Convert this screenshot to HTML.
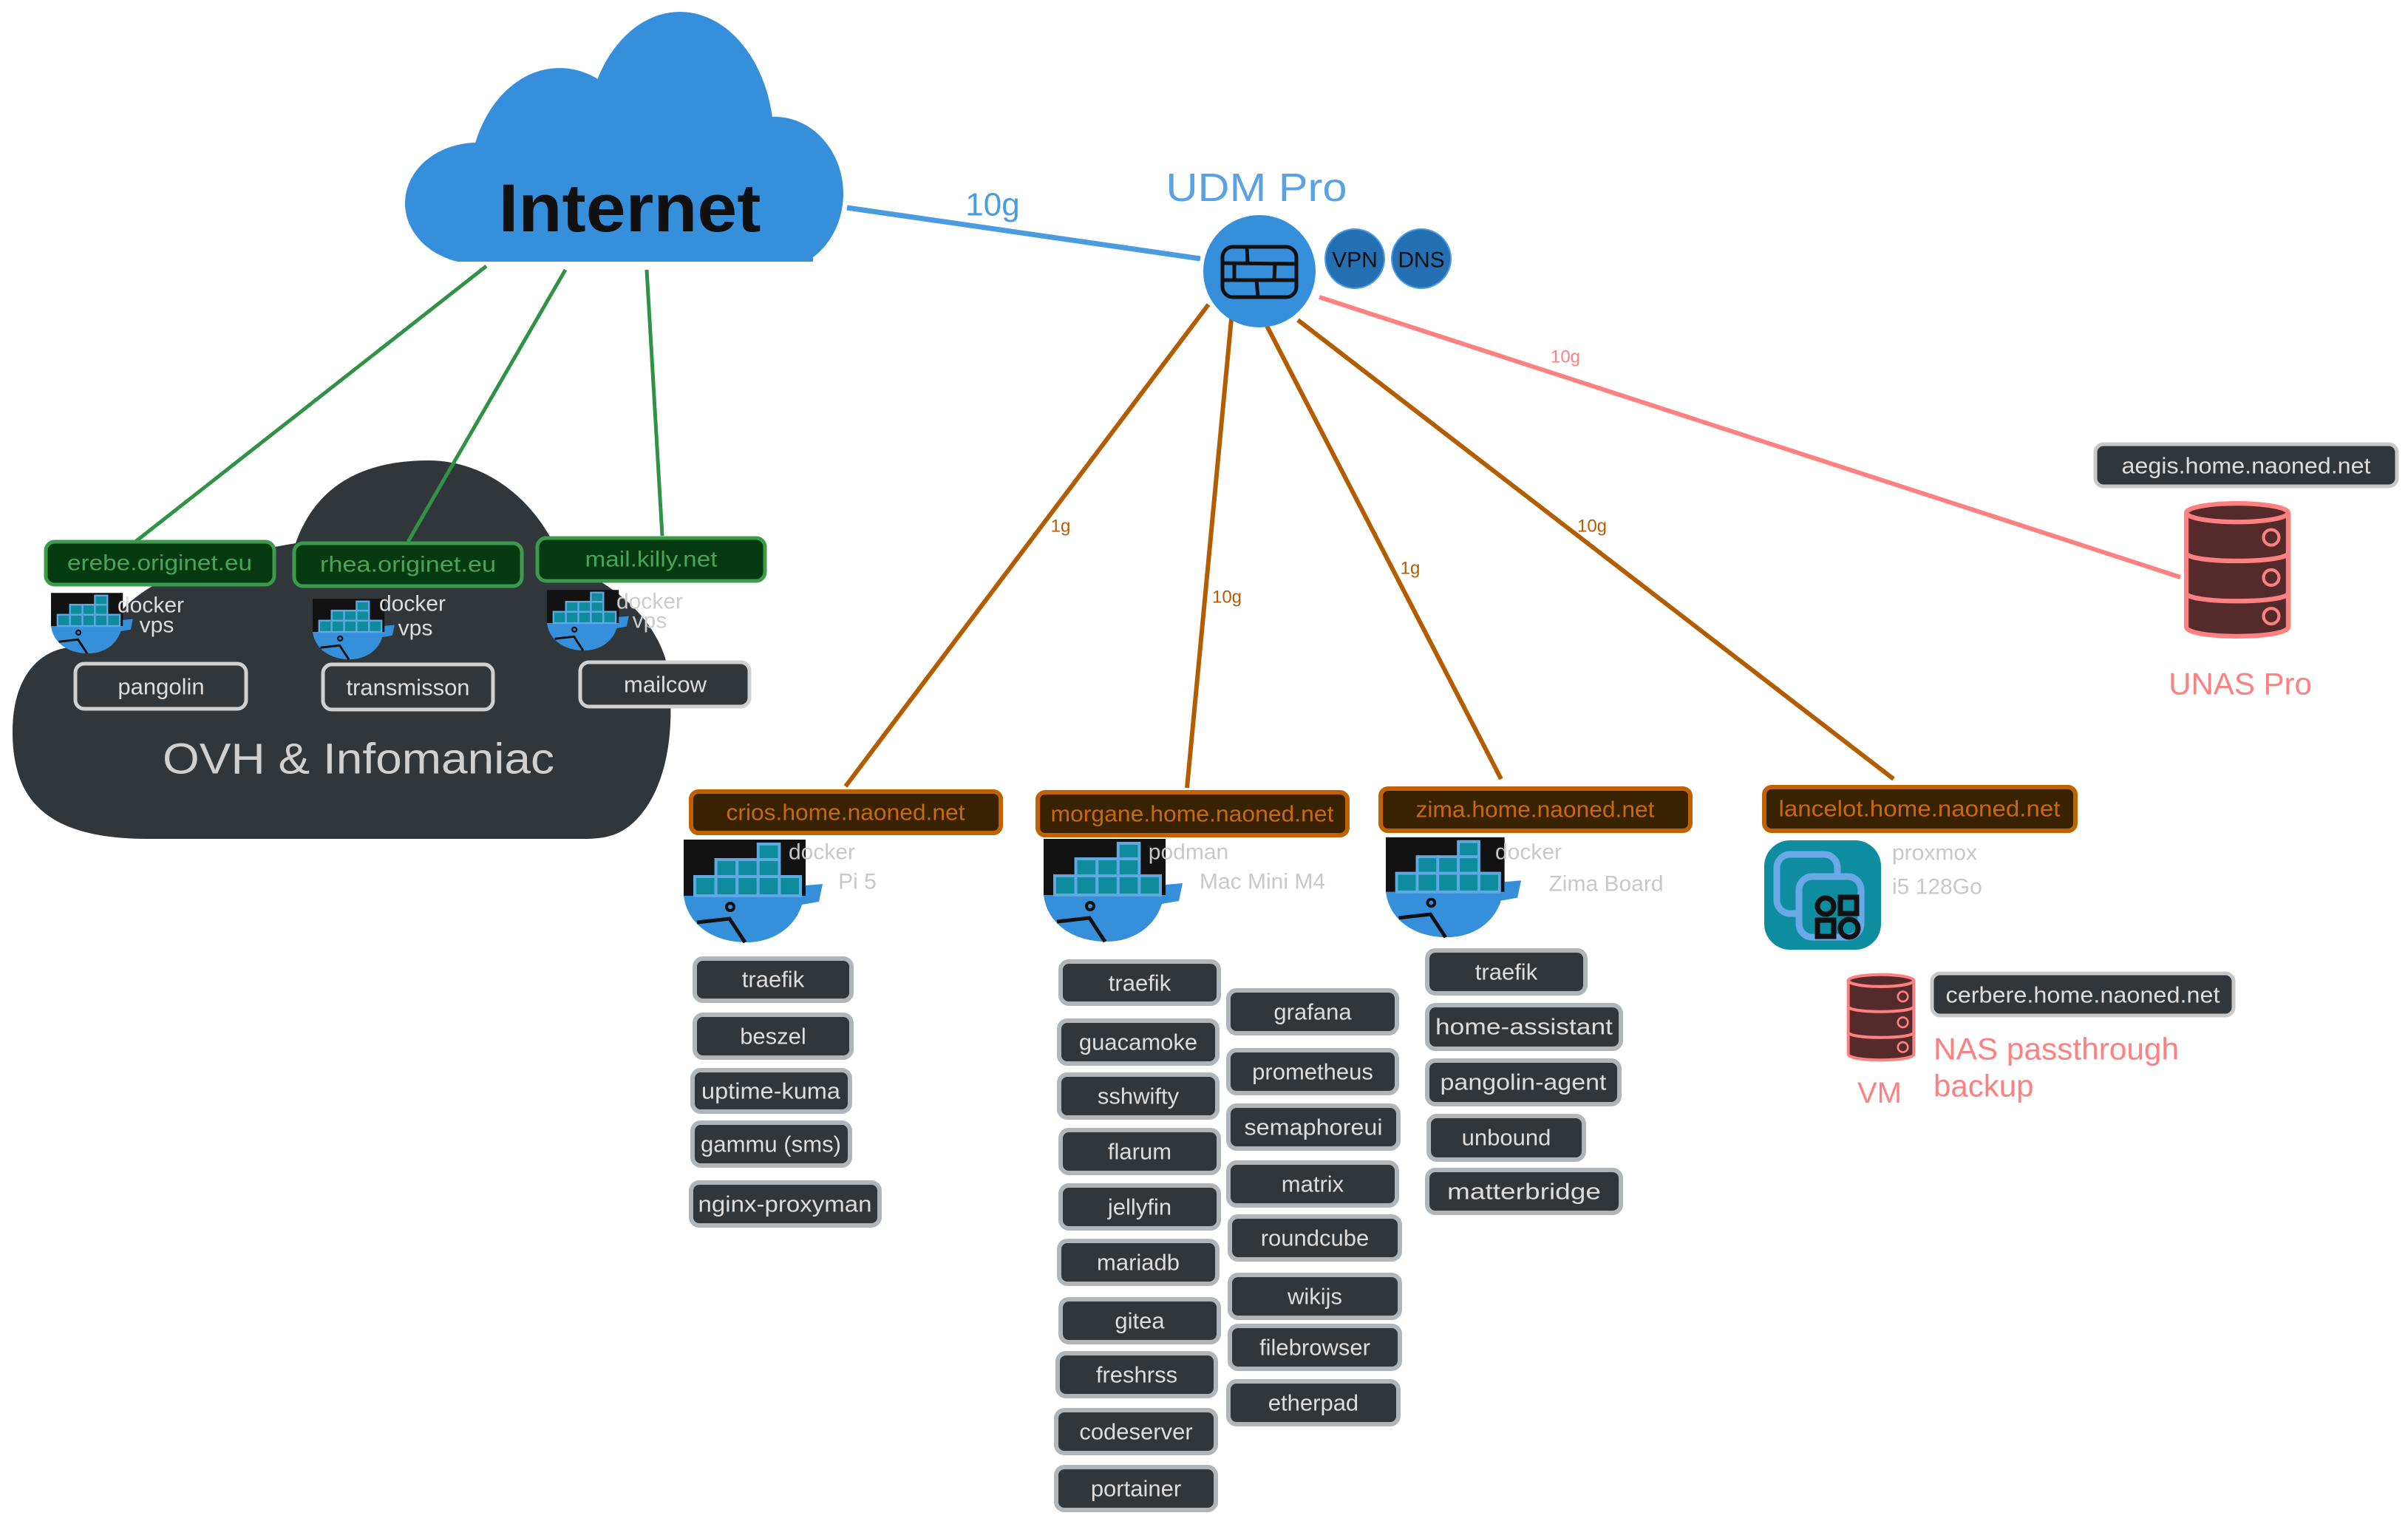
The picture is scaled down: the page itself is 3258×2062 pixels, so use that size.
<!DOCTYPE html>
<html><head><meta charset="utf-8"><style>
html,body{margin:0;padding:0;background:#fff;}
svg{display:block;}
text{font-family:"Liberation Sans",sans-serif;}
</style></head><body>
<svg width="3258" height="2062" viewBox="0 0 3258 2062" xmlns="http://www.w3.org/2000/svg">
<defs>
<symbol id="dock" viewBox="0 0 190 140">
<rect x="0" y="0" width="165" height="76" fill="#121212"/>
<path d="M0,76 L165,76 L165,62 L188,60 L183,84 L160,88 C150,120 120,139 85,139 C40,139 5,115 0,76 Z" fill="#368fdb"/>
<g fill="#0e8c9e" stroke="#5fa8e0" stroke-width="4">
<rect x="15" y="50" width="28.6" height="26"/><rect x="43.6" y="50" width="28.6" height="26"/><rect x="72.2" y="50" width="28.6" height="26"/><rect x="100.8" y="50" width="28.6" height="26"/><rect x="129.4" y="50" width="28.6" height="26"/>
<rect x="43.6" y="27" width="28.6" height="23"/><rect x="72.2" y="27" width="28.6" height="23"/><rect x="100.8" y="27" width="28.6" height="23"/>
<rect x="100.8" y="6" width="28.6" height="21"/>
</g>
<circle cx="63" cy="91" r="5" fill="none" stroke="#111" stroke-width="4"/>
<polyline points="18,112 62,107 83,139" fill="none" stroke="#111" stroke-width="5"/>
</symbol>
<symbol id="cyl" viewBox="0 0 70 90">
<path d="M2,8 L2,82 C2,90 68,90 68,82 L68,8" fill="#552a2b" stroke="#ff8080" stroke-width="3"/>
<ellipse cx="35" cy="8" rx="33" ry="6" fill="#552a2b" stroke="#ff8080" stroke-width="3"/>
<path d="M2,34 C2,41 68,41 68,34 M2,60 C2,67 68,67 68,60" fill="none" stroke="#ff8080" stroke-width="3"/>
<g fill="none" stroke="#ff8080" stroke-width="2"><circle cx="57" cy="24" r="5"/><circle cx="57" cy="50" r="5"/><circle cx="57" cy="75" r="5"/></g>
</symbol>
<clipPath id="inetclip"><rect x="0" y="0" width="1300" height="354"/></clipPath>
</defs>

<!-- OVH cloud -->
<path fill="#31363b" d="M200,1135 C60,1135 17,1080 17,990 C17,900 70,860 140,880 C150,800 250,760 400,735 C430,650 500,623 580,623 C660,623 730,680 760,760 C830,790 880,830 900,890 C915,960 910,1060 860,1110 C840,1130 820,1135 790,1135 Z"/>

<!-- Internet cloud -->
<g fill="#368fdb" clip-path="url(#inetclip)">
<ellipse cx="645" cy="275" rx="97" ry="82"/>
<ellipse cx="757" cy="250" rx="122" ry="158"/>
<ellipse cx="920" cy="190" rx="127" ry="174"/>
<ellipse cx="1048" cy="262" rx="93" ry="104"/>
<rect x="620" y="250" width="480" height="104"/>
</g>
<text x="852" y="282" font-size="92" font-weight="bold" fill="#111" text-anchor="middle" dominant-baseline="central" textLength="355" lengthAdjust="spacingAndGlyphs">Internet</text>

<!-- connectors -->
<line x1="1146" y1="281" x2="1624" y2="350" stroke="#4a9be0" stroke-width="7"/>
<text x="1343" y="277" font-size="44" fill="#4a9be0" text-anchor="middle" dominant-baseline="central">10g</text>
<g stroke="#2f9244" stroke-width="5">
<line x1="658" y1="360" x2="183" y2="733"/>
<line x1="765" y1="365" x2="552" y2="733"/>
<line x1="875" y1="365" x2="896" y2="725"/>
</g>
<g stroke="#b35c00" stroke-width="6">
<line x1="1635" y1="412" x2="1144" y2="1064"/>
<line x1="1667" y1="421" x2="1606" y2="1066"/>
<line x1="1712" y1="437" x2="2031" y2="1054"/>
<line x1="1756" y1="433" x2="2562" y2="1054"/>
</g>
<g font-size="24" fill="#b35c00" text-anchor="middle" dominant-baseline="central">
<text x="1435" y="712">1g</text><text x="1660" y="808">10g</text><text x="1908" y="769">1g</text><text x="2154" y="712">10g</text>
</g>
<line x1="1785" y1="402" x2="2950" y2="781" stroke="#ff8080" stroke-width="6"/>
<text x="2118" y="483" font-size="24" fill="#ff8080" text-anchor="middle" dominant-baseline="central">10g</text>

<!-- UDM -->
<text x="1700" y="254" font-size="54" fill="#5aa2e4" text-anchor="middle" dominant-baseline="central" textLength="245" lengthAdjust="spacingAndGlyphs">UDM Pro</text>
<circle cx="1704" cy="367" r="76" fill="#368fdb"/>
<g fill="none" stroke="#111" stroke-width="5">
<rect x="1654" y="334" width="100" height="68" rx="14"/>
<path d="M1654,356 L1754,357 M1654,379 L1754,379 M1687,334 L1688,356 M1670,357 L1670,379 M1725,357 L1724,379 M1700,379 L1702,402"/>
</g>
<circle cx="1833" cy="350" r="40" fill="#2470b3" stroke="#4a9be0" stroke-width="2"/>
<circle cx="1923" cy="350" r="40" fill="#2470b3" stroke="#4a9be0" stroke-width="2"/>
<text x="1833" y="352" font-size="30" fill="#111" text-anchor="middle" dominant-baseline="central">VPN</text>
<text x="1923" y="352" font-size="30" fill="#111" text-anchor="middle" dominant-baseline="central">DNS</text>

<!-- green domain boxes -->
<g fill="#053a11" stroke="#3b9a4b" stroke-width="5">
<rect x="62" y="733" width="309" height="58" rx="12"/>
<rect x="398" y="735" width="308" height="58" rx="12"/>
<rect x="727" y="728" width="308" height="58" rx="12"/>
</g>
<g font-size="30" fill="#4aa35c" text-anchor="middle" dominant-baseline="central">
<text x="216" y="762" textLength="250" lengthAdjust="spacingAndGlyphs">erebe.originet.eu</text>
<text x="552" y="764" textLength="238" lengthAdjust="spacingAndGlyphs">rhea.originet.eu</text>
<text x="881" y="757" textLength="179" lengthAdjust="spacingAndGlyphs">mail.killy.net</text>
</g>
<use href="#dock" x="69" y="802" width="112" height="83"/>
<use href="#dock" x="423" y="810" width="112" height="83"/>
<use href="#dock" x="740" y="798" width="112" height="83"/>
<g font-size="30" text-anchor="middle" dominant-baseline="central">
<text x="204" y="819" fill="#ddd">docker</text><text x="212" y="846" fill="#ddd">vps</text>
<text x="558" y="817" fill="#ddd">docker</text><text x="562" y="850" fill="#ddd">vps</text>
<text x="879" y="814" fill="#ccc">docker</text><text x="879" y="840" fill="#ccc">vps</text>
</g>
<g fill="#31363b" stroke="#d0d0d0" stroke-width="5">
<rect x="102" y="898" width="231" height="61" rx="12"/>
<rect x="437" y="899" width="230" height="61" rx="12"/>
<rect x="785" y="896" width="229" height="60" rx="12"/>
</g>
<g font-size="31" fill="#ddd" text-anchor="middle" dominant-baseline="central">
<text x="218" y="929">pangolin</text><text x="552" y="930">transmisson</text><text x="900" y="926">mailcow</text>
</g>
<text x="485" y="1027" font-size="58" fill="#d0d0d0" text-anchor="middle" dominant-baseline="central" textLength="530" lengthAdjust="spacingAndGlyphs">OVH &amp; Infomaniac</text>

<!-- orange host boxes -->
<g fill="#382200" stroke="#c06200" stroke-width="6">
<rect x="935" y="1071" width="419" height="56" rx="10"/>
<rect x="1404" y="1072" width="419" height="58" rx="10"/>
<rect x="1868" y="1067" width="419" height="57" rx="10"/>
<rect x="2387" y="1065" width="421" height="59" rx="10"/>
</g>
<g font-size="31" fill="#c86a0a" text-anchor="middle" dominant-baseline="central">
<text x="1144" y="1099" textLength="323" lengthAdjust="spacingAndGlyphs">crios.home.naoned.net</text>
<text x="1613" y="1101" textLength="383" lengthAdjust="spacingAndGlyphs">morgane.home.naoned.net</text>
<text x="2077" y="1095" textLength="323" lengthAdjust="spacingAndGlyphs">zima.home.naoned.net</text>
<text x="2597" y="1094" textLength="381" lengthAdjust="spacingAndGlyphs">lancelot.home.naoned.net</text>
</g>
<use href="#dock" x="925" y="1136" width="190" height="140"/>
<use href="#dock" x="1412" y="1135" width="190" height="140"/>
<use href="#dock" x="1875" y="1131" width="185" height="140"/>
<g font-size="30" fill="#c8c8c8" text-anchor="middle" dominant-baseline="central">
<text x="1112" y="1153">docker</text><text x="1160" y="1193">Pi 5</text>
<text x="1608" y="1153">podman</text><text x="1708" y="1193">Mac Mini M4</text>
<text x="2068" y="1153">docker</text><text x="2173" y="1196">Zima Board</text>
<text x="2560" y="1154" text-anchor="start">proxmox</text><text x="2560" y="1200" text-anchor="start">i5 128Go</text>
</g>

<!-- proxmox icon -->
<rect x="2387" y="1137" width="158" height="148" rx="35" fill="#0e8ca0"/>
<rect x="2404" y="1156" width="82" height="80" rx="18" fill="none" stroke="#6aa8e6" stroke-width="9"/>
<rect x="2434" y="1186" width="84" height="82" rx="18" fill="#0e8ca0" stroke="#6aa8e6" stroke-width="9"/>
<g fill="none" stroke="#111" stroke-width="7">
<circle cx="2470" cy="1226" r="11"/><rect x="2490" y="1214" width="22" height="22"/>
<rect x="2459" y="1245" width="22" height="22"/><circle cx="2502" cy="1256" r="12"/>
</g>

<!-- services -->
<g fill="#31363b" stroke="#b0b5ba" stroke-width="6">
<rect x="940" y="1297" width="212" height="57" rx="11"/>
<rect x="940" y="1373" width="212" height="58" rx="11"/>
<rect x="937" y="1448" width="213" height="56" rx="11"/>
<rect x="937" y="1519" width="213" height="58" rx="11"/>
<rect x="935" y="1600" width="255" height="58" rx="11"/>

<rect x="1435" y="1301" width="214" height="57" rx="11"/>
<rect x="1433" y="1381" width="214" height="58" rx="11"/>
<rect x="1433" y="1454" width="214" height="58" rx="11"/>
<rect x="1435" y="1529" width="214" height="58" rx="11"/>
<rect x="1435" y="1604" width="214" height="58" rx="11"/>
<rect x="1433" y="1679" width="214" height="58" rx="11"/>
<rect x="1435" y="1758" width="214" height="58" rx="11"/>
<rect x="1431" y="1831" width="214" height="58" rx="11"/>
<rect x="1429" y="1908" width="216" height="58" rx="11"/>
<rect x="1429" y="1985" width="216" height="58" rx="11"/>

<rect x="1662" y="1340" width="228" height="58" rx="11"/>
<rect x="1662" y="1421" width="228" height="58" rx="11"/>
<rect x="1662" y="1496" width="230" height="58" rx="11"/>
<rect x="1662" y="1573" width="228" height="58" rx="11"/>
<rect x="1664" y="1646" width="230" height="58" rx="11"/>
<rect x="1664" y="1725" width="230" height="58" rx="11"/>
<rect x="1664" y="1794" width="230" height="58" rx="11"/>
<rect x="1662" y="1869" width="230" height="58" rx="11"/>

<rect x="1931" y="1286" width="214" height="58" rx="11"/>
<rect x="1931" y="1360" width="262" height="59" rx="11"/>
<rect x="1931" y="1435" width="260" height="59" rx="11"/>
<rect x="1933" y="1510" width="210" height="59" rx="11"/>
<rect x="1931" y="1583" width="262" height="58" rx="11"/>
</g>
<g font-size="31" fill="#ddd" text-anchor="middle" dominant-baseline="central">
<text x="1046" y="1325">traefik</text>
<text x="1046" y="1402">beszel</text>
<text x="1043" y="1476" textLength="188" lengthAdjust="spacingAndGlyphs">uptime-kuma</text>
<text x="1043" y="1548" textLength="190" lengthAdjust="spacingAndGlyphs">gammu (sms)</text>
<text x="1062" y="1629" textLength="235" lengthAdjust="spacingAndGlyphs">nginx-proxyman</text>

<text x="1542" y="1330">traefik</text>
<text x="1540" y="1410">guacamoke</text>
<text x="1540" y="1483">sshwifty</text>
<text x="1542" y="1558">flarum</text>
<text x="1542" y="1633">jellyfin</text>
<text x="1540" y="1708">mariadb</text>
<text x="1542" y="1787">gitea</text>
<text x="1538" y="1860">freshrss</text>
<text x="1537" y="1937">codeserver</text>
<text x="1537" y="2014">portainer</text>

<text x="1776" y="1369">grafana</text>
<text x="1776" y="1450">prometheus</text>
<text x="1777" y="1525" textLength="187" lengthAdjust="spacingAndGlyphs">semaphoreui</text>
<text x="1776" y="1602">matrix</text>
<text x="1779" y="1675">roundcube</text>
<text x="1779" y="1754">wikijs</text>
<text x="1779" y="1823">filebrowser</text>
<text x="1777" y="1898">etherpad</text>

<text x="2038" y="1315">traefik</text>
<text x="2062" y="1389" textLength="240" lengthAdjust="spacingAndGlyphs">home-assistant</text>
<text x="2061" y="1464" textLength="225" lengthAdjust="spacingAndGlyphs">pangolin-agent</text>
<text x="2038" y="1539">unbound</text>
<text x="2062" y="1612" textLength="208" lengthAdjust="spacingAndGlyphs">matterbridge</text>
</g>

<!-- right side -->
<rect x="2835" y="601" width="408" height="57" rx="11" fill="#31363b" stroke="#c8c8c8" stroke-width="5"/>
<text x="3039" y="630" font-size="31" fill="#ddd" text-anchor="middle" dominant-baseline="central" textLength="337" lengthAdjust="spacingAndGlyphs">aegis.home.naoned.net</text>
<use href="#cyl" x="2952" y="677" width="150" height="188"/>
<text x="3031" y="925" font-size="42" fill="#ff8080" text-anchor="middle" dominant-baseline="central">UNAS Pro</text>
<use href="#cyl" x="2496" y="1316" width="98" height="121"/>
<text x="2543" y="1479" font-size="40" fill="#ff8080" text-anchor="middle" dominant-baseline="central">VM</text>
<rect x="2614" y="1317" width="408" height="57" rx="11" fill="#31363b" stroke="#c8c8c8" stroke-width="5"/>
<text x="2818" y="1346" font-size="31" fill="#ddd" text-anchor="middle" dominant-baseline="central" textLength="371" lengthAdjust="spacingAndGlyphs">cerbere.home.naoned.net</text>
<text x="2616" y="1419" font-size="42" fill="#ff8080" dominant-baseline="central" textLength="332" lengthAdjust="spacingAndGlyphs">NAS passthrough</text>
<text x="2616" y="1469" font-size="42" fill="#ff8080" dominant-baseline="central">backup</text>
</svg>
</body></html>
